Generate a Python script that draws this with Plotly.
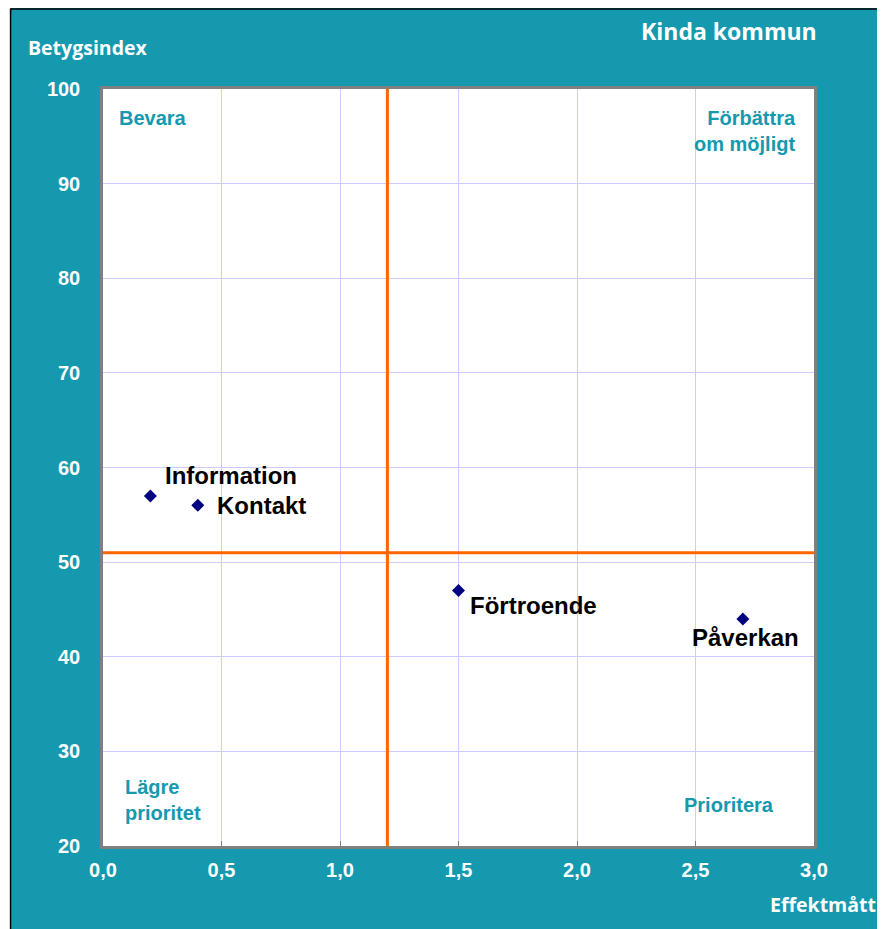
import plotly.graph_objects as go

# Data
names = ["Information", "Kontakt", "Förtroende", "Påverkan"]
effekt = [0.2, 0.4, 1.5, 2.7]
betyg = [57, 56, 47, 44]
x_divider = 1.2
y_divider = 51
x_ticks = [0.0, 0.5, 1.0, 1.5, 2.0, 2.5, 3.0]
x_ticklabels = ["0,0", "0,5", "1,0", "1,5", "2,0", "2,5", "3,0"]
y_ticks = [20, 30, 40, 50, 60, 70, 80, 90, 100]

TEAL = "#1499AF"
W, H = 885, 929
OFF = 8  # page offset of the figure (body margin)
L, R, T, B = 102.5 - OFF, 814 - OFF, 88.5 - OFF, 846 - OFF


def px_x(p):
    # p given in page pixels
    return (p - OFF - L) / (R - L)


def px_y(p):
    return (B - (p - OFF)) / (B - T)


fig = go.Figure()
fig.add_trace(go.Scatter(
    x=effekt, y=betyg, mode="markers",
    marker=dict(symbol="diamond", size=10, color="#000080"),
    hoverinfo="text", text=names, showlegend=False,
))

# point labels: (xanchor, xshift, yshift)
label_style = {
    "Information": ("left", 13, 20),
    "Kontakt": ("left", 17, 0),
    "Förtroende": ("left", 9, -15),
    "Påverkan": ("center", 3, -19),
}
annotations = []
for n, xv, yv in zip(names, effekt, betyg):
    xa, xs, ys = label_style[n]
    annotations.append(dict(
        x=xv, y=yv, xref="x", yref="y", text=n, showarrow=False,
        xanchor=xa, yanchor="middle", xshift=xs, yshift=ys,
        font=dict(family="Liberation Sans", size=24, color="black", weight="bold"),
    ))

qfont = dict(family="Liberation Sans", size=20, color=TEAL, weight="bold")
annotations += [
    dict(x=0.06, y=96.94, xref="x", yref="y", text="Bevara", showarrow=False,
         xanchor="left", yanchor="middle", font=qfont),
    dict(x=2.932, y=95.57, xref="x", yref="y", text="Förbättra<br>om möjligt", showarrow=False,
         xanchor="right", yanchor="middle", align="right", font=qfont),
    dict(x=0.083, y=24.9, xref="x", yref="y", text="Lägre<br>prioritet", showarrow=False,
         xanchor="left", yanchor="middle", align="left", font=qfont),
    dict(x=2.643, y=24.33, xref="x", yref="y", text="Prioritera", showarrow=False,
         xanchor="center", yanchor="middle", font=qfont),
]

tfont = dict(family="Open Sans", color="white", weight="bold")
annotations += [
    dict(x=px_x(25), y=px_y(47), xref="paper", yref="paper", text="Betygsindex",
         showarrow=False, xanchor="left", yanchor="middle", font=dict(tfont, size=19.5)),
    dict(x=px_x(819), y=px_y(30), xref="paper", yref="paper", text="Kinda kommun",
         showarrow=False, xanchor="right", yanchor="middle", font=dict(tfont, size=23)),
    dict(x=px_x(878), y=px_y(905), xref="paper", yref="paper", text="Effektmått",
         showarrow=False, xanchor="right", yanchor="middle", font=dict(tfont, size=19.5)),
]

shapes = [
    # white strip left of the teal frame
    dict(type="rect", xref="paper", yref="paper", x0=px_x(0), x1=px_x(10), y0=px_y(940), y1=px_y(0),
         fillcolor="white", line=dict(width=0), layer="above"),
    dict(type="line", xref="paper", yref="paper", x0=px_x(10), x1=px_x(895), y0=px_y(8.5), y1=px_y(8.5),
         line=dict(color="black", width=1.5), layer="above"),
    dict(type="line", xref="paper", yref="paper", x0=px_x(10), x1=px_x(10), y0=px_y(8), y1=px_y(940),
         line=dict(color="black", width=1.5), layer="above"),
    # quadrant dividers
    dict(type="line", xref="x", yref="y", x0=x_divider, x1=x_divider, y0=y_ticks[0], y1=y_ticks[-1],
         line=dict(color="#FF6600", width=3), layer="above"),
    dict(type="line", xref="x", yref="y", x0=x_ticks[0], x1=x_ticks[-1], y0=y_divider, y1=y_divider,
         line=dict(color="#FF6600", width=3), layer="above"),
]

tickfont = dict(family="Liberation Sans", size=20, color="white", weight="bold")
fig.update_layout(
    width=W, height=H,
    margin=dict(l=L, r=W - R, t=T, b=H - B, pad=0),
    paper_bgcolor=TEAL, plot_bgcolor="white",
    xaxis=dict(range=[x_ticks[0], x_ticks[-1]], tickvals=x_ticks, ticktext=x_ticklabels,
               showgrid=True, gridcolor="#CCCCFF", gridwidth=1, zeroline=False,
               showline=True, linecolor="#808080", linewidth=2.5, mirror=True,
               ticks="inside", ticklen=5, tickcolor="#808080", tickfont=tickfont, ticklabelstandoff=4),
    yaxis=dict(range=[y_ticks[0], y_ticks[-1]], tickvals=y_ticks,
               showgrid=True, gridcolor="#CCCCFF", gridwidth=1, zeroline=False,
               showline=True, linecolor="#808080", linewidth=2.5, mirror=True,
               ticks="", tickfont=tickfont, ticklabelstandoff=16),
    annotations=annotations, shapes=shapes,
)

fig.write_html("out.html")
